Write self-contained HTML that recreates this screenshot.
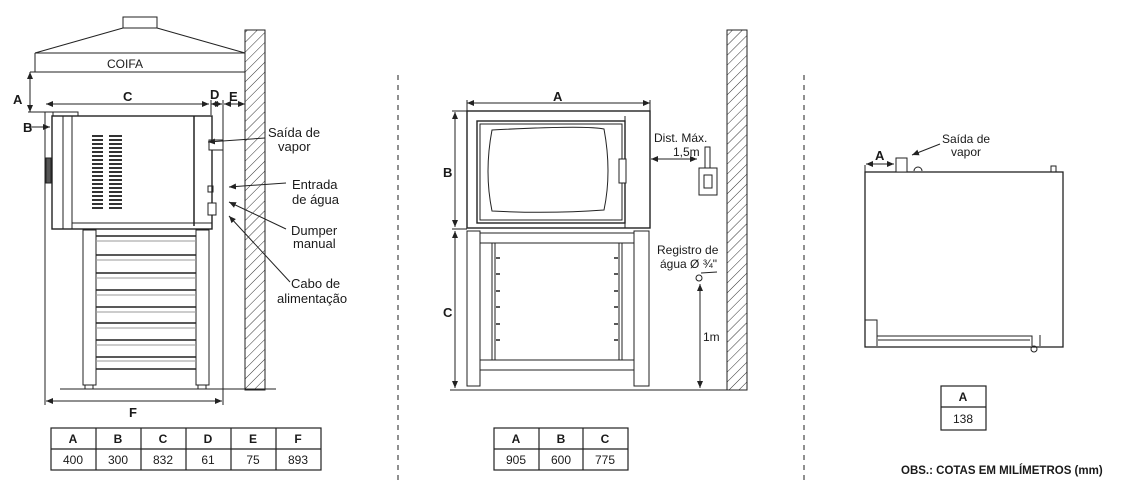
<!DOCTYPE html>
<html><head><meta charset="utf-8"><style>
html,body{margin:0;padding:0;background:#fff;}
svg{display:block;}
text{font-family:"Liberation Sans",sans-serif;fill:#1a1a1a;}
.b{font-weight:bold;}
</style></head><body>
<svg width="1122" height="493" viewBox="0 0 1122 493" xmlns="http://www.w3.org/2000/svg">
<defs>
<pattern id="h" width="7" height="7" patternUnits="userSpaceOnUse" patternTransform="rotate(45)">
<rect width="7" height="7" fill="#fff"/><line x1="0" y1="0" x2="0" y2="7" stroke="#333" stroke-width="1"/></pattern>
<marker id="a" markerWidth="8" markerHeight="8" refX="7" refY="4" orient="auto-start-reverse" markerUnits="userSpaceOnUse">
<path d="M0,1 L7,4 L0,7 z" fill="#222"/></marker>
</defs>
<g stroke="#222" fill="none" stroke-width="1">
<!-- LEFT: hood -->
<rect x="123" y="17" width="34" height="11" fill="#fff"/>
<path d="M35,53 L123,28 M157,28 L245,53 M35,53 H245 M35,53 V72 M30,72 H245"/>
<line x1="30" y1="72" x2="30" y2="112" marker-start="url(#a)" marker-end="url(#a)"/>
<line x1="28" y1="112" x2="62" y2="112"/>
<rect x="245" y="30" width="20" height="360" fill="url(#h)"/>
<line x1="46" y1="104" x2="209" y2="104" marker-start="url(#a)" marker-end="url(#a)"/>
<line x1="211" y1="104" x2="222" y2="104" marker-start="url(#a)" marker-end="url(#a)"/>
<line x1="224" y1="104" x2="245" y2="104" marker-start="url(#a)" marker-end="url(#a)"/>
<line x1="30" y1="127" x2="50" y2="127" marker-end="url(#a)"/>
<line x1="45" y1="112" x2="45" y2="405"/>
<line x1="223" y1="100" x2="223" y2="405"/>
<line x1="211" y1="100" x2="211" y2="115"/>
<line x1="46" y1="401" x2="222" y2="401" marker-start="url(#a)" marker-end="url(#a)"/>
<!-- oven side -->
<rect x="53" y="112" width="25" height="4" fill="#fff"/>
<rect x="52" y="116" width="160" height="113" fill="#fff" stroke-width="1.4"/>
<line x1="63" y1="116" x2="63" y2="229"/><line x1="72" y1="116" x2="72" y2="229"/>
<line x1="194" y1="116" x2="194" y2="226" stroke-width="1.5"/>
<line x1="72" y1="223" x2="212" y2="223"/>
<rect x="46" y="158" width="5" height="25" fill="#555"/>
<g stroke="#333" stroke-width="2">
<path d="M92,136h11M92,140h11M92,144h11M92,148h11M92,152h11M92,156h11M92,160h11M92,164h11M92,168h11M92,172h11M92,176h11M92,180h11M92,184h11M92,188h11M92,192h11M92,196h11M92,200h11M92,204h11M92,208h11"/>
<path d="M109,136h13M109,140h13M109,144h13M109,148h13M109,152h13M109,156h13M109,160h13M109,164h13M109,168h13M109,172h13M109,176h13M109,180h13M109,184h13M109,188h13M109,192h13M109,196h13M109,200h13M109,204h13M109,208h13"/>
</g>
<rect x="209" y="140" width="14" height="10" fill="#fff"/>
<rect x="208" y="186" width="5" height="6"/><rect x="208" y="203" width="8" height="12" fill="#fff"/>
<!-- stand -->
<rect x="83" y="230" width="13" height="155" fill="#fff"/>
<rect x="196" y="230" width="13" height="155" fill="#fff"/>
<g stroke-width="1.6">
<path d="M96,236H196M96,255H196M96,273H196M96,290H196M96,307H196M96,323H196M96,340H196M96,357H196M96,369H196"/>
</g>
<path d="M96,241H196M96,260H196M96,278H196M96,295H196M96,312H196M96,328H196M96,345H196M96,361H196" stroke="#999"/>
<rect x="85" y="385" width="8" height="4" fill="#fff"/><rect x="198" y="385" width="8" height="4" fill="#fff"/>
<line x1="60" y1="389" x2="276" y2="389"/>
<!-- leaders -->
<line x1="265" y1="138" x2="208" y2="142" marker-end="url(#a)"/>
<line x1="286" y1="183" x2="229" y2="187" marker-end="url(#a)"/>
<line x1="286" y1="229" x2="229" y2="202" marker-end="url(#a)"/>
<line x1="290" y1="282" x2="229" y2="216" marker-end="url(#a)"/>

<!-- MIDDLE -->
<line x1="398" y1="75" x2="398" y2="482" stroke-dasharray="5,5"/>
<line x1="467" y1="103" x2="650" y2="103" marker-start="url(#a)" marker-end="url(#a)"/>
<line x1="467" y1="100" x2="467" y2="111"/><line x1="650" y1="100" x2="650" y2="120"/>
<line x1="455" y1="112" x2="455" y2="227" marker-start="url(#a)" marker-end="url(#a)"/>
<line x1="455" y1="231" x2="455" y2="388" marker-start="url(#a)" marker-end="url(#a)"/>
<path d="M452,111H467M452,229H467"/>
<rect x="467" y="111" width="183" height="117" fill="#fff" stroke-width="1.4"/>
<rect x="477" y="121" width="148" height="102" stroke-width="1.4"/>
<rect x="480" y="124" width="142" height="96"/>
<path d="M492,130 Q586,125 604,129 Q612,172 604,210 Q550,214 492,211 Q484,172 492,130 z"/>
<line x1="625" y1="116" x2="625" y2="228"/>
<rect x="619" y="159" width="7" height="24" fill="#fff"/>
<rect x="467" y="231" width="13" height="155" fill="#fff"/>
<rect x="634" y="231" width="15" height="155" fill="#fff"/>
<rect x="480" y="233" width="154" height="10" fill="#fff"/>
<rect x="480" y="360" width="154" height="10" fill="#fff"/>
<path d="M492,243V360M495,243V360M619,243V360M622,243V360"/>
<path d="M496,258h4M496,274h4M496,291h4M496,307h4M496,324h4M496,340h4M614,258h4M614,274h4M614,291h4M614,307h4M614,324h4M614,340h4" stroke-width="1.5"/>
<line x1="450" y1="390" x2="745" y2="390"/>
<rect x="727" y="30" width="20" height="360" fill="url(#h)"/>
<line x1="651" y1="159" x2="697" y2="159" marker-start="url(#a)" marker-end="url(#a)"/>
<rect x="705" y="147" width="5" height="21"/>
<rect x="699" y="168" width="18" height="27" fill="#fff"/>
<rect x="704" y="175" width="8" height="13"/>
<circle cx="699" cy="278" r="3"/>
<line x1="701" y1="273" x2="717" y2="272"/>
<line x1="700" y1="284" x2="700" y2="388" marker-start="url(#a)" marker-end="url(#a)"/>

<!-- RIGHT -->
<line x1="804" y1="75" x2="804" y2="482" stroke-dasharray="5,5"/>
<rect x="865" y="172" width="198" height="175" fill="#fff" stroke-width="1.3"/>
<rect x="896" y="158" width="11" height="14" fill="#fff"/>
<path d="M914,171 a4,4 0 0 1 8,0"/>
<rect x="1051" y="166" width="5" height="6"/>
<line x1="865" y1="165" x2="865" y2="172"/>
<line x1="866" y1="164" x2="894" y2="164" marker-start="url(#a)" marker-end="url(#a)"/>
<line x1="940" y1="144" x2="912" y2="155" marker-end="url(#a)"/>
<path d="M865,320H877V346M877,336H1032V346M878,340H1030M1040,335V346"/>
<circle cx="1034" cy="349" r="3"/>
</g>
<!-- Tables -->
<g stroke="#222" fill="none" stroke-width="1.2">
<rect x="51" y="428" width="270" height="42"/>
<line x1="51" y1="449" x2="321" y2="449"/>
<path d="M96,428V470M141,428V470M186,428V470M231,428V470M276,428V470"/>
<rect x="494" y="428" width="134" height="42"/>
<line x1="494" y1="449" x2="628" y2="449"/>
<path d="M539,428V470M583,428V470"/>
<rect x="941" y="386" width="45" height="44"/>
<line x1="941" y1="407" x2="986" y2="407"/>
</g>
<g font-size="12">
<text x="107" y="68">COIFA</text>
<text class="b" x="13" y="104" font-size="13">A</text>
<text class="b" x="23" y="132" font-size="13">B</text>
<text class="b" x="123" y="101" font-size="13">C</text>
<text class="b" x="210" y="99" font-size="13">D</text>
<text class="b" x="229" y="101" font-size="13">E</text>
<text class="b" x="129" y="417" font-size="13">F</text>
<text x="268" y="137" font-size="13">Saída de</text><text x="278" y="151" font-size="13">vapor</text>
<text x="292" y="189" font-size="13">Entrada</text><text x="292" y="204" font-size="13">de água</text>
<text x="291" y="235" font-size="13">Dumper</text><text x="293" y="248" font-size="13">manual</text>
<text x="291" y="288" font-size="13">Cabo de</text><text x="277" y="303" font-size="13">alimentação</text>
<text class="b" x="553" y="101" font-size="13">A</text>
<text class="b" x="443" y="177" font-size="13">B</text>
<text class="b" x="443" y="317" font-size="13">C</text>
<text x="654" y="142">Dist. Máx.</text><text x="673" y="156">1,5m</text>
<text x="657" y="254">Registro de</text><text x="660" y="268">água Ø ¾"</text>
<text x="703" y="341">1m</text>
<text class="b" x="875" y="160" font-size="13">A</text>
<text x="942" y="143">Saída de</text><text x="951" y="156">vapor</text>
</g>
<g font-size="12" text-anchor="middle">
<g class="b"><text x="73" y="443" class="b">A</text><text x="118" y="443" class="b">B</text><text x="163" y="443" class="b">C</text><text x="208" y="443" class="b">D</text><text x="253" y="443" class="b">E</text><text x="298" y="443" class="b">F</text>
<text x="516" y="443" class="b">A</text><text x="561" y="443" class="b">B</text><text x="605" y="443" class="b">C</text>
<text x="963" y="401" class="b">A</text></g>
<text x="73" y="464">400</text><text x="118" y="464">300</text><text x="163" y="464">832</text><text x="208" y="464">61</text><text x="253" y="464">75</text><text x="298" y="464">893</text>
<text x="516" y="464">905</text><text x="561" y="464">600</text><text x="605" y="464">775</text>
<text x="963" y="423">138</text>
</g>
<text class="b" x="901" y="474" font-size="11.5">OBS.: COTAS EM MILÍMETROS (mm)</text>
</svg>
</body></html>
